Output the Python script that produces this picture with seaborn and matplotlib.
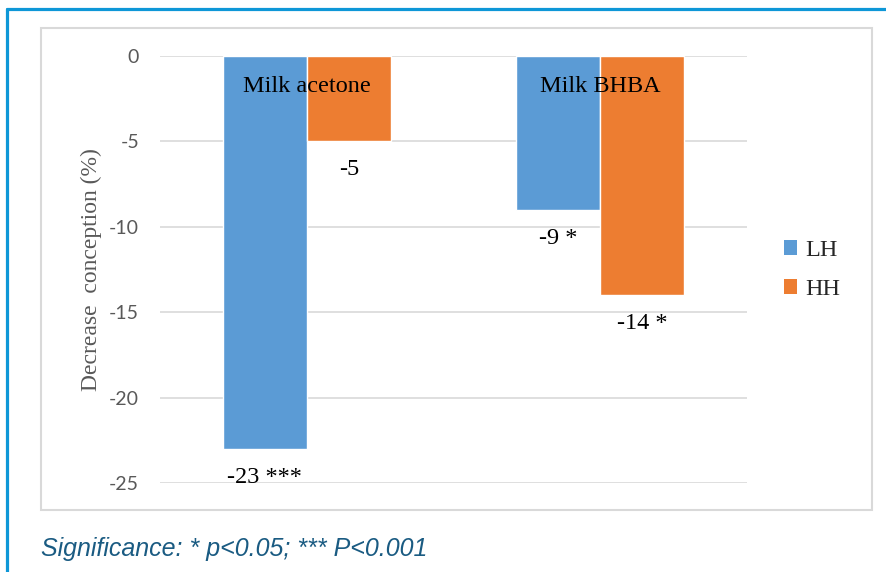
import pandas as pd
import matplotlib.pyplot as plt
import seaborn as sns
from matplotlib.patches import Patch, Rectangle
from matplotlib.lines import Line2D

# data
groups = ["Milk acetone", "Milk BHBA"]
series = ["LH", "HH"]
lh_values = [-23, -9]
hh_values = [-5, -14]
lh_labels = ["-23 ***", "-9 *"]
hh_labels = ["-5", "-14 *"]
y_ticks = [0, -5, -10, -15, -20, -25]
colors = {"LH": "#5b9bd5", "HH": "#ed7d31"}

df = pd.DataFrame({
    "group": groups * 2,
    "series": ["LH"] * len(groups) + ["HH"] * len(groups),
    "value": lh_values + hh_values,
})

sns.set_theme(style="white")
W, H = 887, 572
fig = plt.figure(figsize=(W / 100, H / 100), dpi=100)
fig.patch.set_facecolor("white")

# outer blue frame (top and left edge)
fig.add_artist(Line2D([7 / W, 1], [1 - 9 / H, 1 - 9 / H], color="#0e97d7", lw=2.3))
fig.add_artist(Line2D([7 / W, 7 / W], [0, 1 - 9 / H], color="#0e97d7", lw=2.3))
# grey chart box
fig.add_artist(Rectangle((41 / W, 1 - 510 / H), (872 - 41) / W, (510 - 28) / H,
                         transform=fig.transFigure, fill=False,
                         edgecolor="#d9d9d9", lw=1.5))

ax = fig.add_axes([160 / W, 1 - 483 / H, (747 - 160) / W, (483 - 56) / H])
ax.set_facecolor("none")
sns.barplot(data=df, x="group", y="value", hue="series", hue_order=series,
            palette=colors, width=0.573, saturation=1, legend=False, ax=ax)

ax.set_ylim(-25, 0)
ax.set_yticks(y_ticks)
ax.set_yticklabels([str(t) for t in y_ticks], fontfamily="Lato",
                   fontsize=14, color="#595959")
ax.tick_params(axis="y", length=0, pad=15)
ax.set_xticks([])
ax.set_xlabel("")
ax.grid(axis="y", color="#d9d9d9", lw=1.2)
ax.set_axisbelow(True)
for sp in ax.spines.values():
    sp.set_visible(False)
ax.set_ylabel("Decrease  conception (%)", fontfamily="Liberation Serif",
              fontsize=17, color="#595959", labelpad=5)

# value labels below the bar ends
for cont, labs in zip(ax.containers, [lh_labels, hh_labels]):
    ax.bar_label(cont, labels=labs, padding=13, fontfamily="Liberation Serif",
                 fontsize=17.5, color="black")

# category names inside the top of each group
for i, g in enumerate(groups):
    ax.annotate(g, xy=(i, 0), xytext=(0, -22), textcoords="offset points",
                ha="center", va="center", fontfamily="Liberation Serif",
                fontsize=17.5, color="black")

handles = [Patch(facecolor=colors[s], edgecolor="none") for s in series]
leg = fig.legend(handles, series, loc="center left",
                 bbox_to_anchor=(762 / W, 1 - 270 / H), frameon=False,
                 handlelength=0.55, handleheight=0.55, handletextpad=0.35,
                 labelspacing=0.75, prop={"family": "Liberation Serif", "size": 17.5})

fig.text(41 / W, 1 - 549 / H, "Significance: * p<0.05; *** P<0.001",
         fontfamily="Liberation Sans", style="italic", fontsize=18,
         color="#1a5b82", ha="left", va="center")

fig.savefig("out.png", dpi=100, facecolor="white")
